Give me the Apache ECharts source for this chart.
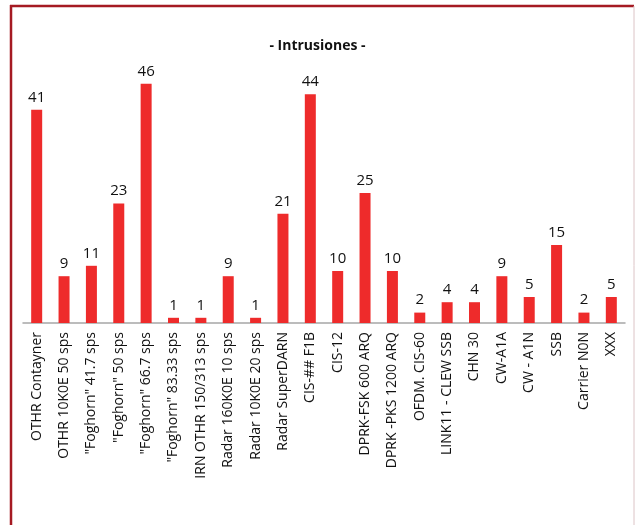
<!DOCTYPE html>
<html>
<head>
<meta charset="utf-8">
<script src="https://cdn.jsdelivr.net/npm/echarts@6/dist/echarts.min.js"></script>
<style>
  html, body { margin: 0; padding: 0; background: #ffffff; }
  #chart { width: 635px; height: 525px; }
</style>
</head>
<body>
<div id="chart"></div>
<script>
// Signal types detected
const categories = [
  'OTHR Contayner',
  'OTHR 10K0E 50 sps',
  '"Foghorn" 41.7 sps',
  '"Foghorn" 50 sps',
  '"Foghorn" 66.7 sps',
  '"Foghorn" 83.33 sps',
  'IRN OTHR 150/313 sps',
  'Radar 160K0E 10 sps',
  'Radar 10K0E 20 sps',
  'Radar SuperDARN',
  'CIS-## F1B',
  'CIS-12',
  'DPRK-FSK 600 ARQ',
  'DPRK -PKS 1200 ARQ',
  'OFDM. CIS-60',
  'LINK11 - CLEW SSB',
  'CHN 30',
  'CW-A1A',
  'CW - A1N',
  'SSB',
  'Carrier N0N',
  'XXX'
];

// Number of intrusions per signal type
const intrusions = [41, 9, 11, 23, 46, 1, 1, 9, 1, 21, 44, 10, 25, 10, 2, 4, 4, 9, 5, 15, 2, 5];

const chart = echarts.init(document.getElementById('chart'), null, { renderer: 'canvas' });
const FONT = 'Open Sans';

chart.setOption({
  backgroundColor: '#ffffff',
  animation: false,
  title: {
    text: '- Intrusiones -',
    left: 'center',
    top: 34,
    textStyle: { fontFamily: FONT, fontSize: 14, fontWeight: 'bold', color: '#111111' }
  },
  grid: { left: 23, right: 10, top: 63, bottom: 202, containLabel: false },
  xAxis: {
    type: 'category',
    data: categories,
    axisLine: { show: true, lineStyle: { color: '#a6a6a6', width: 1.5 } },
    axisTick: { show: false },
    axisLabel: {
      rotate: 90,
      interval: 0,
      margin: 9,
      fontFamily: FONT,
      fontSize: 14,
      color: '#111111'
    }
  },
  yAxis: {
    type: 'value',
    min: 0,
    max: 50,
    show: false
  },
  series: [{
    type: 'bar',
    data: intrusions,
    barWidth: 11,
    itemStyle: { color: '#ee2b2b' },
    label: {
      show: true,
      position: 'top',
      distance: 5,
      fontFamily: FONT,
      fontSize: 15,
      color: '#111111'
    }
  }],
  graphic: [
    // frame around the chart area
    { type: 'line', shape: { x1: 10, y1: 6, x2: 634, y2: 6 }, style: { stroke: '#a51a22', lineWidth: 2.5 } },
    { type: 'line', shape: { x1: 11, y1: 5, x2: 11, y2: 525 }, style: { stroke: '#a51a22', lineWidth: 2.5 } },
    { type: 'line', shape: { x1: 634, y1: 6, x2: 634, y2: 525 }, style: { stroke: '#dcc4c6', lineWidth: 1 } }
  ]
});
</script>
</body>
</html>
